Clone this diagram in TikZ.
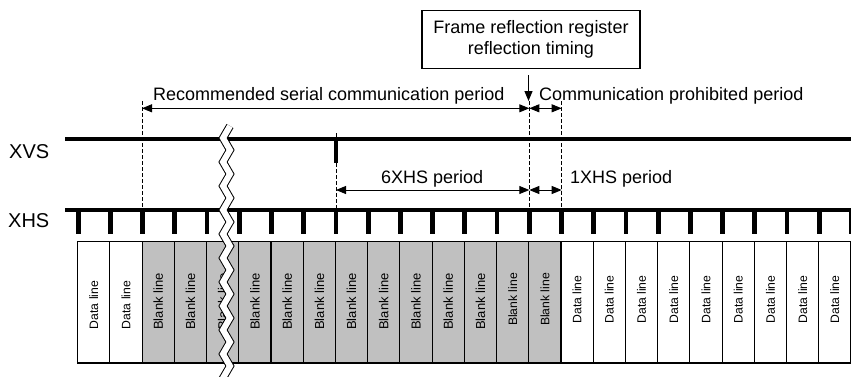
\documentclass[tikz,border=0pt]{standalone}
\usepackage{fontspec}
\setmainfont{Liberation Sans}
\usetikzlibrary{arrows.meta}
\definecolor{blankgray}{RGB}{192,192,192}
\begin{document}
\begin{tikzpicture}[x=1pt,y=-1pt,
  sigline/.style={line width=4.8pt},
  hstick/.style={line width=4.8pt},
  dline/.style={dash pattern=on 4pt off 2pt, line width=0.9pt},
  darr/.style={line width=0.9pt, {Triangle[length=10pt,width=8pt]}-{Triangle[length=10pt,width=8pt]}},
  downarr/.style={line width=1.2pt, -{Triangle[length=10pt,width=8pt]}},
  lbl/.style={font=\fontsize{18}{21}\selectfont, inner sep=0pt},
  siglbl/.style={font=\fontsize{20}{24}\selectfont, inner sep=0pt},
  cell/.style={draw, line width=1.1pt, minimum width=32.22pt, minimum height=121.5pt, inner sep=0pt, outer sep=0pt, anchor=north west},
  celltext/.style={rotate=90, inner sep=0pt},
  framebox/.style={draw, line width=1.1pt, minimum width=218pt, minimum height=58pt, align=center, font=\fontsize{18}{21}\selectfont, inner sep=0pt},
  breakline/.style={line width=1pt, double=white, double distance=6pt, line join=miter}
]
\useasboundingbox (0,0) rectangle (851,376);

% cells
\foreach \i in {0,...,23}{
  \ifnum\i<2 \def\kind{Data line}\def\fc{white}\else
    \ifnum\i<15 \def\kind{Blank line}\def\fc{blankgray}\else
      \def\kind{Data line}\def\fc{white}\fi\fi
  \ifnum\i<2 \def\ty{305}\def\fs{12.2}\else
    \ifnum\i<13 \def\ty{301.5}\def\fs{13}\else
      \def\ty{299.5}\def\fs{12.2}\fi\fi
  \node[cell, fill=\fc] (c\i) at ({77.7+32.22*\i},241.5) {};
  \node[celltext, font=\fontsize{\fs}{\fs}\selectfont] (t\i) at ({77.7+32.22*\i+16.11},\ty) {\kind};
}

% signal lines
\coordinate (xvsL) at (65,139);
\coordinate (xvsR) at (851,139);
\coordinate (xhsL) at (65,210);
\coordinate (xhsR) at (851,210);
\draw[sigline] (xvsL) -- (xvsR);
\draw[sigline] (xhsL) -- (xhsR);
\foreach \i in {0,...,24}{
  \coordinate (k\i) at ({78.2+32.22*\i},210);
  \draw[hstick] (k\i) -- ++(0,24);
}

% labels
\node[siglbl, anchor=base west] (lxvs) at (9,158) {XVS};
\node[siglbl, anchor=base west] (lxhs) at (8,227) {XHS};

% dashed markers
\coordinate (d1t) at (142,101);   \coordinate (d1b) at (142,210);
\coordinate (d2t) at (529.3,101); \coordinate (d2b) at (529.3,210);
\coordinate (d3t) at (561.7,101); \coordinate (d3b) at (561.7,210);
\coordinate (d0t) at (336,133);   \coordinate (d0b) at (336,210);
\draw[dline] (d1t) -- (d1b);
\draw[dline] (d2t) -- (d2b);
\draw[dline] (d3t) -- (d3b);
\draw[dline] (d0t) -- (d0b);

% XVS pulse
\coordinate (pt) at (336,139);
\coordinate (pb) at (336,163);
\draw[line width=4.5pt] (pt) -- (pb);

% period arrows
\coordinate (r1) at (142,108.3);
\coordinate (r2) at (529.3,108.3);
\coordinate (r3) at (561.7,108.3);
\draw[darr] (r1) -- (r2);
\draw[darr] (r2) -- (r3);
\coordinate (s1) at (336,190);
\coordinate (s2) at (529.3,190);
\coordinate (s3) at (561.7,190);
\draw[darr] (s1) -- (s2);
\draw[darr] (s2) -- (s3);

\node[lbl, anchor=base west] (lrec) at (153,100) {Recommended serial communication period};
\node[lbl, anchor=base west] (lpro) at (539,100) {Communication prohibited period};
\node[lbl, anchor=base west] (l6) at (381,183) {6XHS period};
\node[lbl, anchor=base west] (l1) at (570,183) {1XHS period};

% frame reflection box
\node[framebox] (frame) at (531,39.5) {Frame reflection register\\reflection timing};
\coordinate (fa1) at (528.5,75);
\coordinate (fa2) at (528.5,101);
\draw[downarr] (fa1) -- (fa2);

% break mark
\draw[breakline] (226.5+3.5,126) \foreach \k in {1,...,22}{ -- ({226.5+3.5*cos(180*\k)},{126+12*\k}) };
\end{tikzpicture}
\end{document}
